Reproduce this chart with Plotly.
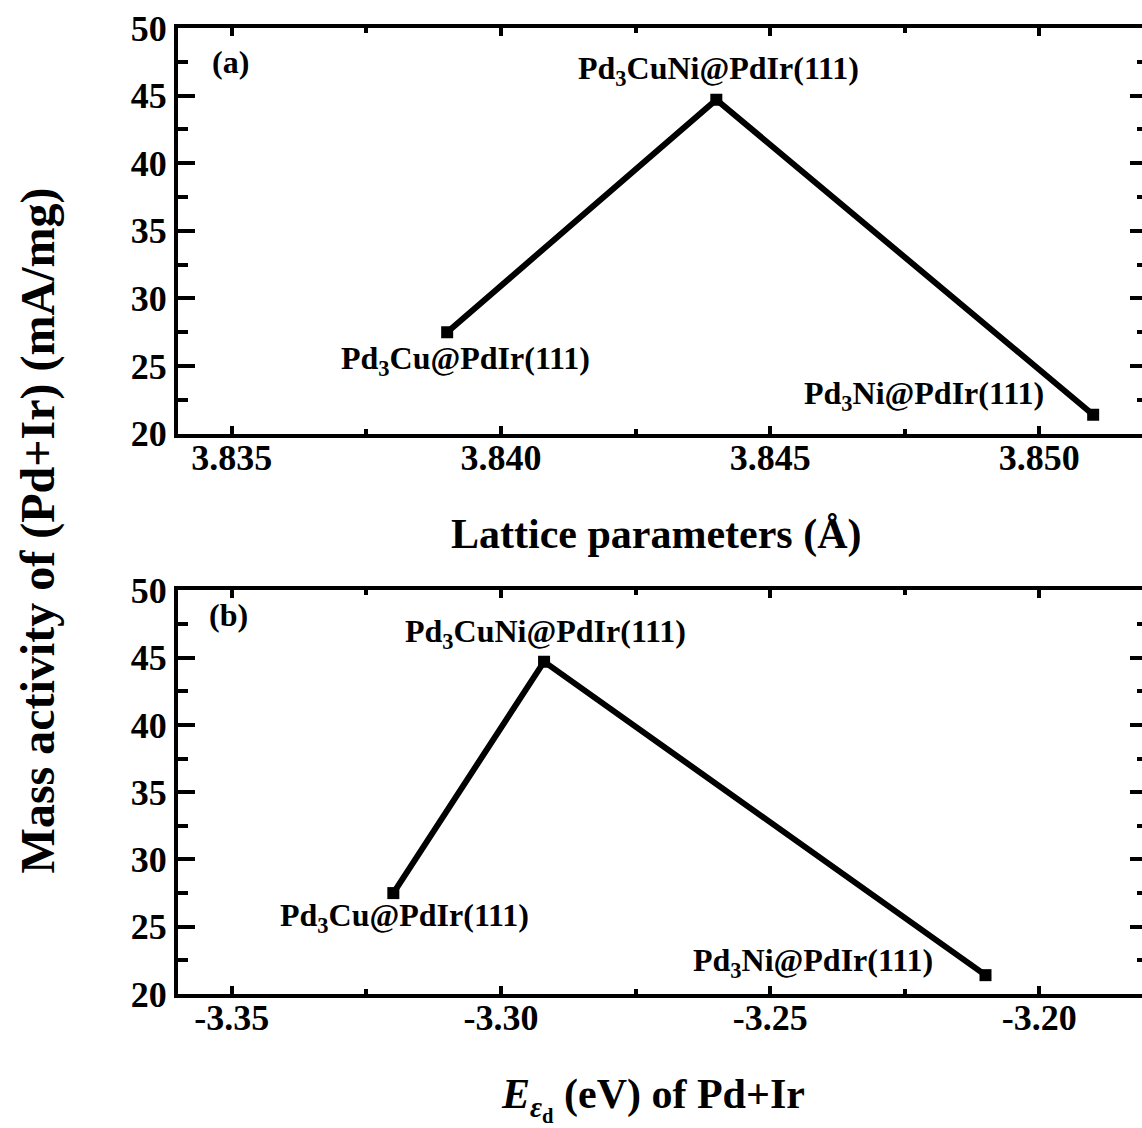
import plotly.graph_objects as go

# ---- data ----
names = ["Pd<sub>3</sub>Cu@PdIr(111)", "Pd<sub>3</sub>CuNi@PdIr(111)", "Pd<sub>3</sub>Ni@PdIr(111)"]
lattice = [3.839, 3.844, 3.851]
d_center = [-3.32, -3.292, -3.21]
mass_activity = [27.5, 44.7, 21.4]

y_ticks = [20, 25, 30, 35, 40, 45, 50]
x1_ticks = [3.835, 3.840, 3.845, 3.850]
x2_ticks = [-3.35, -3.30, -3.25, -3.20]

# ---- layout geometry ----
W, H = 1160, 1128
ml, mr, mt, mb = 178, 9, 20, 134
pw, ph = W - ml - mr, H - mt - mb


def px(x):
    return (x - ml) / pw


def py(y):
    return (H - mb - y) / ph


FONT = "Liberation Serif"
BLACK = "black"

fig = go.Figure()
fig.add_trace(go.Scatter(x=lattice, y=mass_activity, mode="lines+markers",
                         line=dict(color=BLACK, width=6),
                         marker=dict(symbol="square", size=12, color=BLACK),
                         xaxis="x", yaxis="y", showlegend=False))
fig.add_trace(go.Scatter(x=d_center, y=mass_activity, mode="lines+markers",
                         line=dict(color=BLACK, width=6),
                         marker=dict(symbol="square", size=12, color=BLACK),
                         xaxis="x2", yaxis="y2", showlegend=False))

tickfont = dict(family=FONT, size=36, color=BLACK, weight="bold")


def xaxis(rng, ticks, fmt, anchor):
    return dict(range=rng, tickvals=ticks, ticktext=[format(t, fmt) for t in ticks],
                ticks="inside", ticklen=8, tickwidth=4, tickcolor=BLACK,
                minor=dict(ticks="inside", ticklen=5, tickwidth=4, tickcolor=BLACK,
                           dtick=(ticks[1] - ticks[0]) / 2, tick0=ticks[0], showgrid=False),
                showline=True, linewidth=4, linecolor=BLACK, mirror="allticks",
                showgrid=False, zeroline=False, tickfont=tickfont, anchor=anchor,
                domain=[0, 1], ticklabelstandoff=-11)


def yaxis(dom, anchor):
    return dict(range=[20, 50], tickvals=y_ticks, ticktext=[str(t) for t in y_ticks],
                ticks="inside", ticklen=17, tickwidth=4, tickcolor=BLACK,
                minor=dict(ticks="inside", ticklen=10, tickwidth=4, tickcolor=BLACK,
                           dtick=2.5, tick0=20, showgrid=False),
                showline=True, linewidth=4, linecolor=BLACK, mirror="allticks",
                showgrid=False, zeroline=False, tickfont=tickfont, anchor=anchor,
                domain=dom, ticklabelstandoff=0)


fig.update_layout(
    width=W, height=H,
    margin=dict(l=ml, r=mr, t=mt, b=mb),
    paper_bgcolor="white", plot_bgcolor="white",
    xaxis=xaxis([3.834, 3.852], x1_ticks, ".3f", "y"),
    yaxis=yaxis([py(429), 1], "x"),
    xaxis2=xaxis([-3.36, -3.18], x2_ticks, ".2f", "y2"),
    yaxis2=yaxis([0, py(587)], "x2"),
)

lab_font = dict(family=FONT, size=32, color=BLACK, weight="bold")
title_font = dict(family=FONT, size=42, color=BLACK, weight="bold")


def ann(text, x, y, font, **kw):
    fig.add_annotation(text=text, x=px(x), y=py(y), xref="paper", yref="paper",
                       xanchor="center", yanchor="middle", showarrow=False,
                       font=font, **kw)


ann("(a)", 231, 54, lab_font)
ann(names[1], 721, 63, lab_font)
ann(names[0], 467, 355, lab_font)
ann(names[2], 927, 391, lab_font)

ann("(b)", 229, 612, lab_font)
ann(names[1], 547, 631, lab_font)
ann(names[0], 405, 917, lab_font)
ann(names[2], 816, 962, lab_font)

ann("Lattice parameters (Å)", 658, 531, title_font)
ann("<i>E</i><sub><i>ε</i><sub>d</sub></sub> (eV) of Pd+Ir", 655, 1100, title_font)
ann("Mass activity of (Pd+Ir) (mA/mg)", 37, 527, dict(family=FONT, size=48, color=BLACK, weight="bold"),
    textangle=-90)

fig.write_html("out.html", config={"displayModeBar": False},
               post_script="document.body.style.margin='0';document.body.style.overflow='hidden';"
                           "document.documentElement.style.overflow='hidden';")
